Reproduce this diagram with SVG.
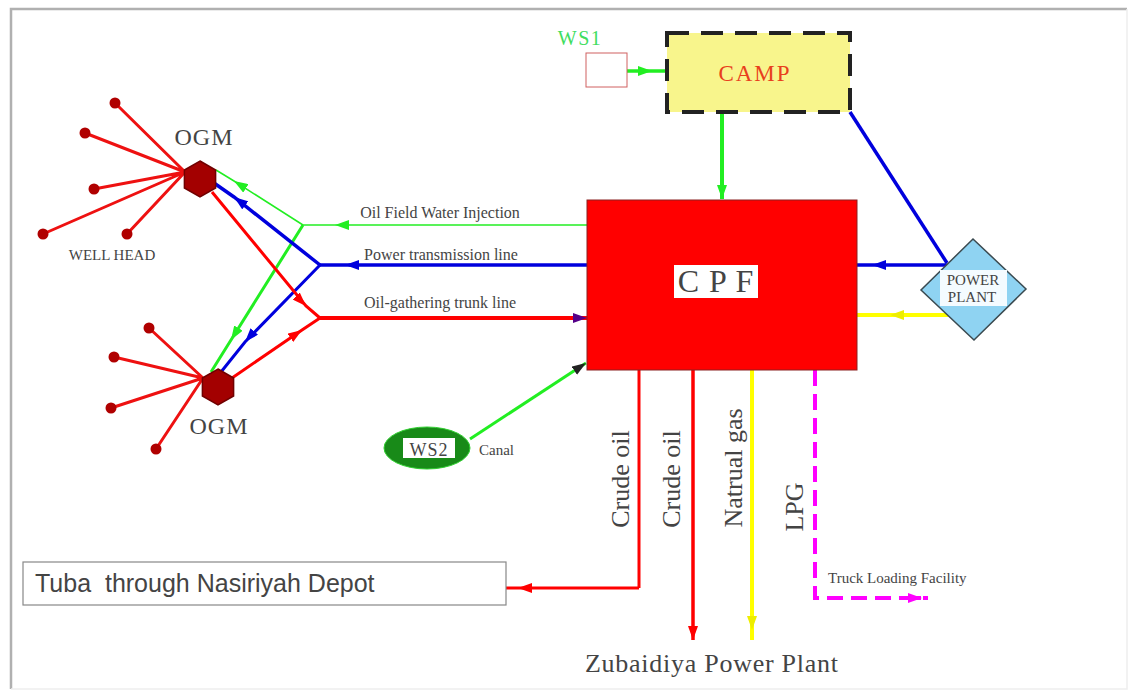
<svg xmlns="http://www.w3.org/2000/svg" width="1131" height="693" viewBox="0 0 1131 693">
<style>
.serif{font-family:"Liberation Serif","Times New Roman",serif;fill:#444}
.sans{font-family:"Liberation Sans",Arial,sans-serif;fill:#444}
.well{stroke:#ee1111;stroke-width:3;fill:none}
.dot{fill:#b00000}
.hex{fill:#a30000;stroke:#700000;stroke-width:1.5}
.r{stroke:#ff0000;fill:none}
.b{stroke:#0000dd;fill:none}
.g{stroke:#22ee22;fill:none}
.y{stroke:#ffff00;fill:none}
.m{stroke:#ff00ff;fill:none;stroke-dasharray:16 8}
.lbl{font-size:16px}
.vlbl{font-size:26px}
</style>
<defs>
<marker id="aR" markerUnits="userSpaceOnUse" markerWidth="14" markerHeight="10" viewBox="0 0 14 10" refX="14" refY="5" orient="auto"><path d="M0,0 L14,5 L0,10 z" fill="#ff0000"/></marker>
<marker id="aB" markerUnits="userSpaceOnUse" markerWidth="14" markerHeight="10" viewBox="0 0 14 10" refX="14" refY="5" orient="auto"><path d="M0,0 L14,5 L0,10 z" fill="#0000dd"/></marker>
<marker id="aG" markerUnits="userSpaceOnUse" markerWidth="14" markerHeight="10" viewBox="0 0 14 10" refX="14" refY="5" orient="auto"><path d="M0,0 L14,5 L0,10 z" fill="#22ee22"/></marker>
<marker id="aY" markerUnits="userSpaceOnUse" markerWidth="14" markerHeight="10" viewBox="0 0 14 10" refX="14" refY="5" orient="auto"><path d="M0,0 L14,5 L0,10 z" fill="#eeee00"/></marker>
<marker id="aM" markerUnits="userSpaceOnUse" markerWidth="14" markerHeight="10" viewBox="0 0 14 10" refX="14" refY="5" orient="auto"><path d="M0,0 L14,5 L0,10 z" fill="#ff00ff"/></marker>
<marker id="aP" markerUnits="userSpaceOnUse" markerWidth="14" markerHeight="10" viewBox="0 0 14 10" refX="14" refY="5" orient="auto"><path d="M0,0 L14,5 L0,10 z" fill="#550088"/></marker>
<marker id="aK" markerUnits="userSpaceOnUse" markerWidth="14" markerHeight="10" viewBox="0 0 14 10" refX="14" refY="5" orient="auto"><path d="M0,0 L14,5 L0,10 z" fill="#222222"/></marker>
</defs>
<rect x="0" y="0" width="1131" height="693" fill="#ffffff"/>
<path d="M11,689 V9 H1127" fill="none" stroke="#b0b0b0" stroke-width="2.5"/>
<path d="M1127,9 V689 H11" fill="none" stroke="#eeeeee" stroke-width="1.5"/>

<g id="connectors">
<path class="g" stroke-width="1.5" d="M587,225 L335,225 L303,225" marker-mid="url(#aG)"/>
<path class="g" stroke-width="1.5" d="M303,225 L234,181 L216,170" marker-mid="url(#aG)"/>
<path class="g" stroke-width="3" d="M303,225 L231,340 L211,372" marker-mid="url(#aG)"/>
<path class="b" stroke-width="3.5" d="M587,265 L345,265 L320,265" marker-mid="url(#aB)"/>
<path class="b" stroke-width="3.5" d="M320,265 L234,197 L214,183" marker-mid="url(#aB)"/>
<path class="b" stroke-width="3" d="M320,265 L245,342 L221,372" marker-mid="url(#aB)"/>
<path class="r" stroke-width="3" d="M212,192 L306,306 L320,318" marker-mid="url(#aR)"/>
<path class="r" stroke-width="3" d="M232,378 L302,330 L320,318" marker-mid="url(#aR)"/>
<path class="r" stroke-width="4" d="M320,318 L587,318" marker-end="url(#aP)"/>
<path class="g" stroke-width="3.5" d="M627,71 L652,71 L667,71" marker-mid="url(#aG)"/>
<path class="g" stroke-width="4" d="M722,112 L722,199" marker-end="url(#aG)"/>
<path class="b" stroke-width="3.5" d="M850,112 L947,263"/>
<path class="b" stroke-width="3.5" d="M947,265 L872,265 L857,265" marker-mid="url(#aB)"/>
<path class="y" stroke-width="4" d="M948,315 L890,315 L857,315" marker-mid="url(#aY)"/>
<path class="g" stroke-width="3" d="M470,439 L586,363" marker-end="url(#aK)"/>
<path class="r" stroke-width="3" d="M639,370 L639,588"/>
<path class="r" stroke-width="3" d="M639,588 L518,588 L506,588" marker-mid="url(#aR)"/>
<path class="r" stroke-width="3.5" d="M693,370 L693,640" marker-end="url(#aR)"/>
<path class="y" stroke-width="4" d="M752,370 L752,630 L752,640" marker-mid="url(#aY)"/>
<path class="m" stroke-width="4" d="M815,370 L815,598 L928,598"/>
<path class="m" stroke-width="4" stroke-dasharray="none" d="M905,598 L922,598" marker-end="url(#aM)"/>
</g>

<g id="lbl-water"><text class="serif lbl" x="440" y="218" text-anchor="middle">Oil Field Water Injection</text></g>
<g id="lbl-power"><text class="serif lbl" x="441" y="260" text-anchor="middle">Power transmission line</text></g>
<g id="lbl-oil"><text class="serif lbl" x="440" y="308" text-anchor="middle">Oil-gathering trunk line</text></g>

<g id="ogm-top">
<path class="well" d="M185,172 L115,103 M185,172 L85,133 M185,172 L94,189 M185,172 L43,234 M185,172 L127,234"/>
<circle class="dot" cx="115" cy="103" r="5.5"/>
<circle class="dot" cx="85" cy="133" r="5.5"/>
<circle class="dot" cx="94" cy="189" r="5.5"/>
<circle class="dot" cx="43" cy="234" r="5.5"/>
<circle class="dot" cx="127" cy="234" r="5.5"/>
<polygon class="hex" points="200,161 215.6,170 215.6,188 200,197 184.4,188 184.4,170"/>
<text class="serif" x="204" y="145" font-size="24" text-anchor="middle" letter-spacing="1">OGM</text>
<text class="serif" x="112" y="260" font-size="15" text-anchor="middle">WELL HEAD</text>
</g>

<g id="ogm-bottom">
<path class="well" d="M203,378 L149,328 M203,378 L114,357 M203,378 L111,408 M203,378 L156,449"/>
<circle class="dot" cx="149" cy="328" r="5.5"/>
<circle class="dot" cx="114" cy="357" r="5.5"/>
<circle class="dot" cx="111" cy="408" r="5.5"/>
<circle class="dot" cx="156" cy="449" r="5.5"/>
<polygon class="hex" points="218,369 233.6,378 233.6,396 218,405 202.4,396 202.4,378"/>
<text class="serif" x="219" y="434" font-size="24" text-anchor="middle" letter-spacing="1">OGM</text>
</g>

<g id="cpf">
<rect x="587" y="200" width="270" height="170" fill="#ff0000" stroke="#8a2020" stroke-width="1"/>
<rect x="674" y="265" width="84" height="33" fill="#ffffff"/>
<text class="serif" x="716" y="292" font-size="32" text-anchor="middle" fill="#333" letter-spacing="1">C P F</text>
</g>

<g id="camp">
<rect x="667" y="33" width="183" height="79" fill="#f8f58c" stroke="#222222" stroke-width="4" stroke-dasharray="22 12"/>
<text x="755" y="81" font-family="Liberation Serif, serif" font-size="23" text-anchor="middle" letter-spacing="2" fill="#e8401c">CAMP</text>
</g>

<g id="ws1">
<rect x="586" y="53" width="41" height="34" fill="#ffffff" stroke="#d06060" stroke-width="1"/>
<text x="580" y="45" font-family="Liberation Serif, serif" font-size="20" text-anchor="middle" letter-spacing="1.5" fill="#40dd60">WS1</text>
</g>

<g id="power-plant">
<polygon points="973,239 1026,289 974,340 921,290" fill="#8fd3f2" stroke="#3a4a50" stroke-width="1.5"/>
<rect x="940" y="270" width="67" height="36" fill="#f4fbff"/>
<text class="serif" x="973" y="285" font-size="15" text-anchor="middle">POWER</text>
<text class="serif" x="972" y="302" font-size="15" text-anchor="middle">PLANT</text>
</g>

<g id="ws2">
<ellipse cx="427" cy="448" rx="43" ry="21" fill="#188a18" stroke="#30d030" stroke-width="1"/>
<rect x="403" y="438" width="52" height="20" fill="#ffffff"/>
<text class="serif" x="429" y="456" font-size="18" text-anchor="middle" letter-spacing="1">WS2</text>
<text class="serif" x="479" y="455" font-size="15">Canal</text>
</g>

<g id="tuba">
<rect x="23" y="562" width="483" height="43" fill="#ffffff" stroke="#888888" stroke-width="1.2"/>
<text class="sans" x="35" y="592" font-size="25" xml:space="preserve">Tuba  through Nasiriyah Depot</text>
</g>

<g id="flow-labels">
<text class="serif vlbl" transform="translate(629,479) rotate(-90)" text-anchor="middle">Crude oil</text>
<text class="serif vlbl" transform="translate(680,479) rotate(-90)" text-anchor="middle">Crude oil</text>
<text class="serif vlbl" transform="translate(742,468) rotate(-90)" text-anchor="middle">Natrual gas</text>
<text class="serif vlbl" transform="translate(803,507) rotate(-90)" text-anchor="middle">LPG</text>
</g>

<g id="truck"><text class="serif" x="828" y="583" font-size="15">Truck Loading Facility</text></g>
<g id="zubaidiya"><text class="serif" x="585" y="672" font-size="26" textLength="253">Zubaidiya Power Plant</text></g>
</svg>
